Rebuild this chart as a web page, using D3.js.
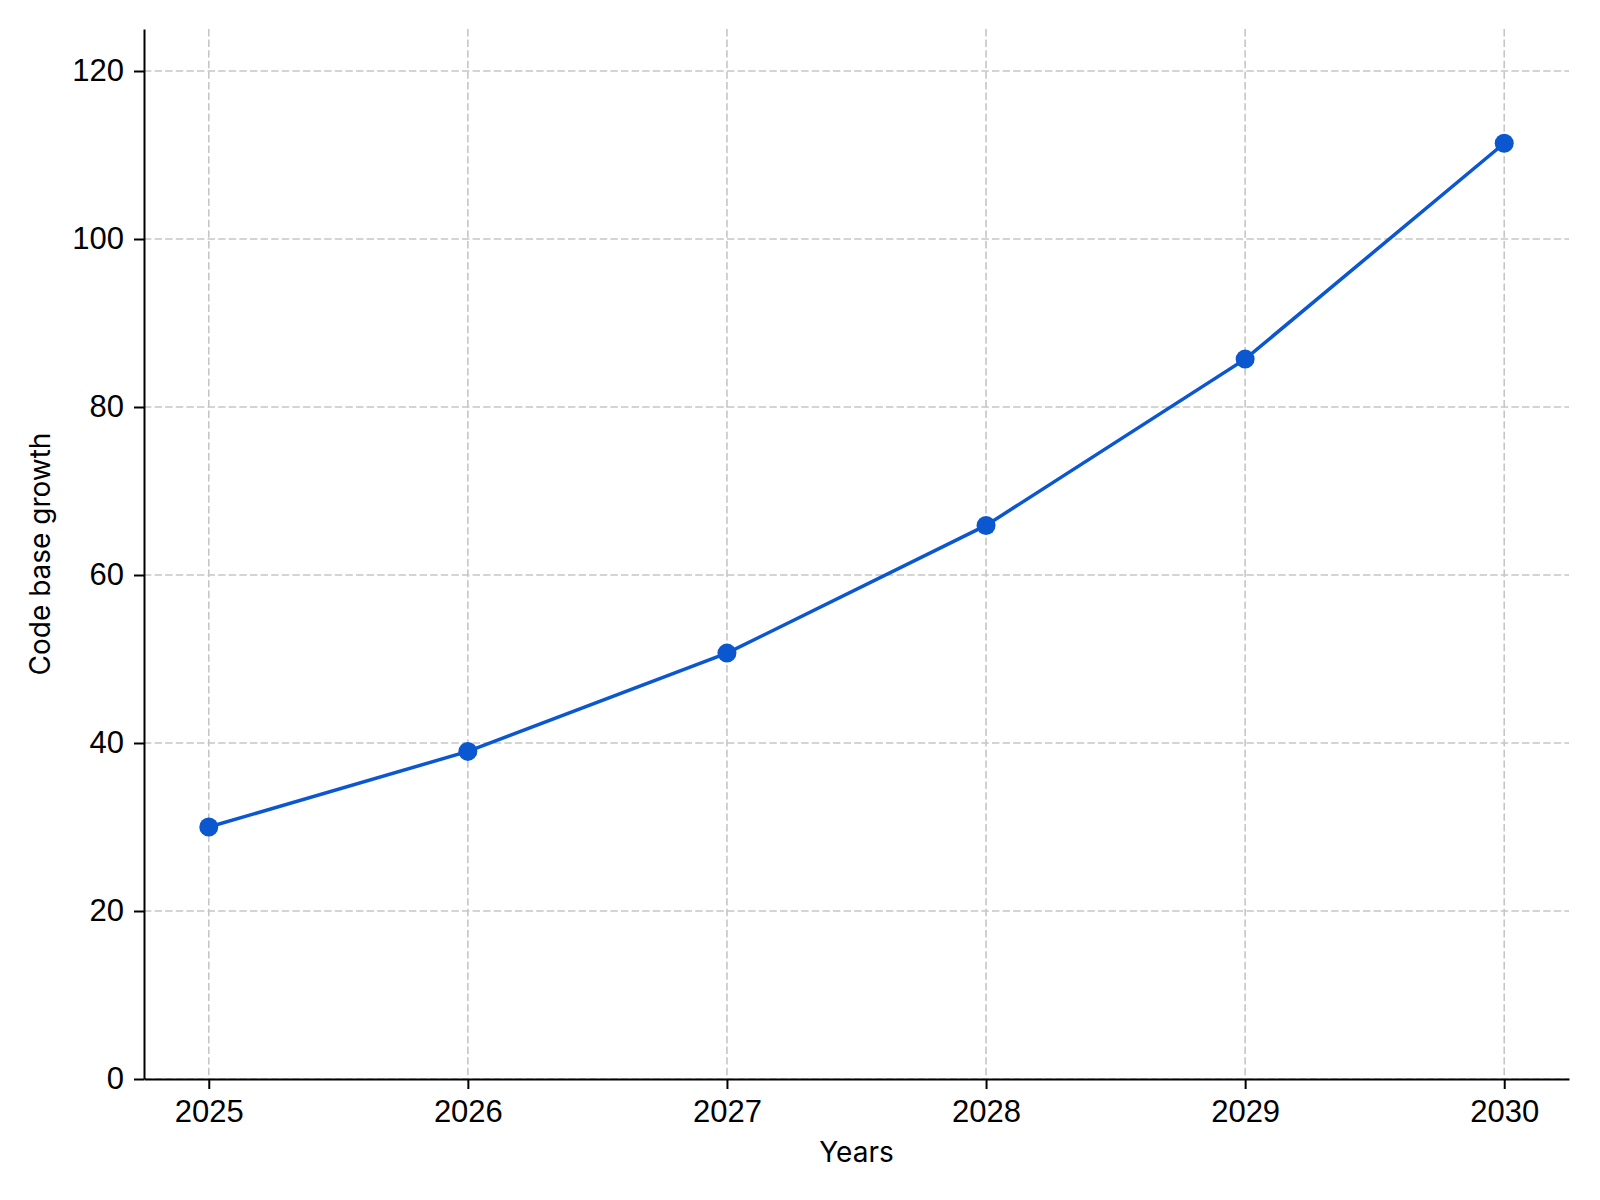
<!DOCTYPE html>
<html>
<head>
<meta charset="utf-8">
<script src="https://cdn.jsdelivr.net/npm/d3@7"></script>
<style>
  body { margin: 0; background: #fff; }
  svg { display: block; font-family: Inter, "Open Sans", "DejaVu Sans", sans-serif; }
</style>
</head>
<body>
<div id="chart"></div>
<script>
// data
const years = [2025, 2026, 2027, 2028, 2029, 2030];
const growth = [30, 39, 50.7, 65.9, 85.7, 111.4];
const yTicks = [0, 20, 40, 60, 80, 100, 120];

const width = 1600, height = 1200;
const margin = { top: 29, right: 31, bottom: 121, left: 144 };
const lineColor = "#0b57d0";

const svg = d3.select("#chart").append("svg")
    .attr("width", width)
    .attr("height", height);

const x = d3.scaleLinear()
    .domain([2024.75, 2030.25])
    .range([margin.left, width - margin.right]);

const y = d3.scaleLinear()
    .domain([0, 125])
    .range([height - margin.bottom, margin.top]);

// grid
const grid = svg.append("g")
    .attr("stroke", "#c6c6c6")
    .attr("stroke-width", 1.6)
    .attr("stroke-dasharray", "7.4,3.2");

grid.selectAll("line.v")
  .data(years)
  .join("line")
    .attr("class", "v")
    .attr("x1", d => x(d)).attr("x2", d => x(d))
    .attr("y1", margin.top).attr("y2", height - margin.bottom);

grid.selectAll("line.h")
  .data(yTicks)
  .join("line")
    .attr("class", "h")
    .attr("x1", margin.left).attr("x2", width - margin.right)
    .attr("y1", d => y(d)).attr("y2", d => y(d));

// axes
const xAxis = svg.append("g")
    .attr("transform", `translate(0,${height - margin.bottom})`)
    .call(d3.axisBottom(x).tickValues(years).tickFormat(d3.format("d")).tickSize(10).tickPadding(11).tickSizeOuter(0));

const yAxis = svg.append("g")
    .attr("transform", `translate(${margin.left},0)`)
    .call(d3.axisLeft(y).tickValues(yTicks).tickSize(10).tickPadding(10).tickSizeOuter(0));

[xAxis, yAxis].forEach(a => {
  a.select(".domain").attr("stroke", "#000").attr("stroke-width", 2);
  a.selectAll(".tick line").attr("stroke", "#000").attr("stroke-width", 2);
  a.selectAll(".tick text").attr("fill", "#000").style("font-size", "31px");
});

// line
const line = d3.line()
    .x((d, i) => x(years[i]))
    .y(d => y(d));

svg.append("path")
    .datum(growth)
    .attr("fill", "none")
    .attr("stroke", lineColor)
    .attr("stroke-width", 3.5)
    .attr("d", line);

svg.append("g")
  .selectAll("circle")
  .data(growth)
  .join("circle")
    .attr("cx", (d, i) => x(years[i]))
    .attr("cy", d => y(d))
    .attr("r", 9.5)
    .attr("fill", lineColor);

// labels
svg.append("text")
    .attr("x", (margin.left + width - margin.right) / 2)
    .attr("y", 1162)
    .attr("text-anchor", "middle")
    .style("font-size", "28px")
    .text("Years");

svg.append("text")
    .attr("transform", `translate(50,${(margin.top + height - margin.bottom) / 2}) rotate(-90)`)
    .attr("text-anchor", "middle")
    .style("font-size", "28px")
    .text("Code base growth");
</script>
</body>
</html>
